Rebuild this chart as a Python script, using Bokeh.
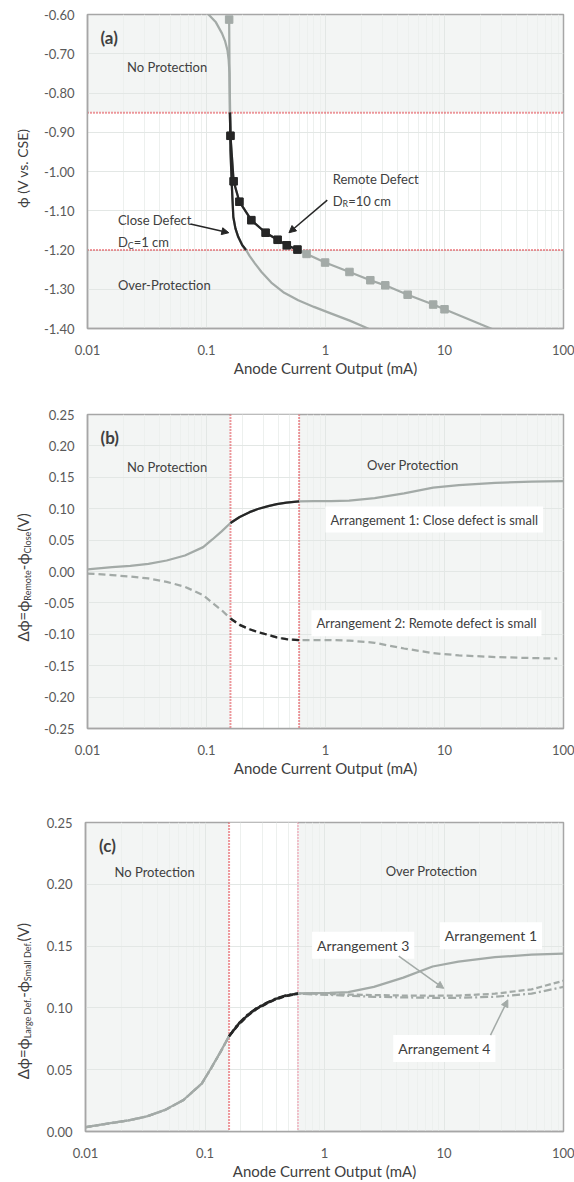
import glob
import math
import os

from bokeh.embed import file_html
from bokeh.layouts import column, row
from bokeh.models import (Arrow, BoxAnnotation, FixedTicker, Label, NormalHead,
                          PrintfTickFormatter, Range1d, Span)
from bokeh.plotting import figure
from bokeh.resources import INLINE

# ------------------------------------------------------------------ data
x_ticks = [0.01, 0.1, 1, 10, 100]
x_tick_labels = ["0.01", "0.1", "1", "10", "100"]
x_minor_ticks = [0.02, 0.03, 0.04, 0.05, 0.06, 0.07, 0.08, 0.09,
                 0.2, 0.3, 0.4, 0.5, 0.6, 0.7, 0.8, 0.9,
                 2, 3, 4, 5, 6, 7, 8, 9,
                 20, 30, 40, 50, 60, 70, 80, 90]

# (a) potential of each defect vs. anode current
phi_ticks = [-1.40, -1.30, -1.20, -1.10, -1.00, -0.90, -0.80, -0.70, -0.60]
phi_protect_top = -0.85      # protection criterion
phi_protect_bottom = -1.20   # over-protection limit

close_i = [0.104, 0.120, 0.135, 0.143, 0.150, 0.1535, 0.156, 0.158, 0.159,
           0.163, 0.168, 0.175, 0.185, 0.200, 0.215, 0.230, 0.255, 0.290,
           0.350, 0.450, 0.590, 0.800, 1.12, 1.60, 2.13, 2.50]
close_phi = [-0.600, -0.620, -0.648, -0.667, -0.691, -0.715, -0.750, -0.850,
             -0.946, -1.031, -1.116, -1.145, -1.167, -1.188, -1.200, -1.215,
             -1.234, -1.256, -1.283, -1.309, -1.328, -1.345, -1.362, -1.380,
             -1.396, -1.406]

remote_i = [0.155, 0.157, 0.159, 0.169, 0.189, 0.238, 0.314, 0.396, 0.473,
            0.581, 0.693, 0.993, 1.59, 2.38, 3.18, 4.90, 8.03, 10.0, 26.0]
remote_phi = [-0.613, -0.850, -0.909, -1.025, -1.077, -1.124, -1.156, -1.174,
              -1.188, -1.199, -1.210, -1.232, -1.256, -1.277, -1.290, -1.314,
              -1.339, -1.351, -1.403]
remote_marker = [1, 0, 1, 1, 1, 1, 1, 1, 1, 1, 1, 1, 1, 1, 1, 1, 1, 1, 0]

# (b), (c) potential difference between the two defects
dphi_ticks_b = [-0.25, -0.20, -0.15, -0.10, -0.05, 0.00, 0.05, 0.10, 0.15, 0.20, 0.25]
dphi_ticks_c = [0.00, 0.05, 0.10, 0.15, 0.20, 0.25]
i_protect_low = 0.159
i_protect_high = 0.60

dphi_i = [0.01, 0.0161, 0.0229, 0.0325, 0.0463, 0.0659, 0.0938, 0.112, 0.134,
          0.159, 0.19, 0.23, 0.27, 0.33, 0.39, 0.47, 0.60, 0.80, 1.11, 1.58,
          2.59, 4.57, 8.03, 13.2, 26.7, 54.0, 100.0]
arrangement1 = [0.0035, 0.0068, 0.0090, 0.0122, 0.0175, 0.0255, 0.0388, 0.0510,
                0.0640, 0.0772, 0.0868, 0.0945, 0.0995, 0.1040, 0.1072, 0.1098,
                0.1117, 0.1120, 0.1122, 0.1128, 0.1170, 0.1245, 0.1335, 0.1375,
                0.1410, 0.1432, 0.1440]
arrangement2_i = [0.01, 0.0161, 0.0229, 0.0325, 0.0463, 0.0659, 0.0938, 0.112,
                  0.134, 0.159, 0.19, 0.23, 0.27, 0.33, 0.39, 0.47, 0.60, 0.80,
                  1.11, 1.58, 2.59, 4.57, 8.03, 13.2, 26.7, 54.0, 88.5]
arrangement2 = [-0.0032, -0.0058, -0.0080, -0.0110, -0.0165, -0.0244, -0.0377,
                -0.0500, -0.0616, -0.0748, -0.0850, -0.0920, -0.0965, -0.1010,
                -0.1050, -0.1078, -0.1094, -0.1092, -0.1092, -0.1100, -0.1135,
                -0.1226, -0.1300, -0.1335, -0.1362, -0.1378, -0.1386]
arrangement3 = [0.0034, 0.0066, 0.0089, 0.0121, 0.0173, 0.0253, 0.0386, 0.0508,
                0.0638, 0.0770, 0.0862, 0.0940, 0.0990, 0.1036, 0.1068, 0.1094,
                0.1114, 0.1115, 0.1112, 0.1108, 0.1104, 0.1100, 0.1098, 0.1100,
                0.1115, 0.1150, 0.1220]
arrangement4 = [0.0035, 0.0067, 0.0090, 0.0121, 0.0174, 0.0254, 0.0387, 0.0509,
                0.0639, 0.0771, 0.0872, 0.0950, 0.0998, 0.1043, 0.1075, 0.1100,
                0.1116, 0.1110, 0.1105, 0.1098, 0.1090, 0.1085, 0.1082, 0.1082,
                0.1090, 0.1115, 0.1170]

# ------------------------------------------------------------------ style
FONT = "Lato"
INK = "#404040"
TICK_INK = "#595959"
GRAY = "#a3aaa7"
BLACK = "#262626"
SHADE = "#f3f5f4"
GRID = "#e3e7e5"
GRID_MINOR = "#edf0ee"
FRAME = "#a6a6a6"
RED = "#e0343c"
PINK = "#f08ea4"
LINE_W = 2.25
STRIP_W = 40          # width of the strip that carries the rotated y title
SUB = 0.6             # subscript size relative to the title size


def _find_font(filename):
    roots = ["/usr/share/fonts", "/usr/local/share/fonts",
             os.path.expanduser("~/.fonts"), os.path.expanduser("~/.local/share/fonts")]
    for root in roots:
        hits = glob.glob(os.path.join(root, "**", filename), recursive=True)
        if hits:
            return hits[0]
    return None


try:
    from PIL import ImageFont
    _path = _find_font("Lato-Regular.ttf")
    _METRICS = ImageFont.truetype(_path, 100) if _path else None
except Exception:
    _METRICS = None


def text_width(text, size):
    """Advance width in px of a string set in FONT at the given size."""
    if _METRICS is not None:
        return _METRICS.getlength(text) * size / 100.0
    return 0.52 * size * len(text)


def panel(height, border_top, border_bottom, y_start, y_end, y_ticks):
    p = figure(width=574 - STRIP_W, height=height, x_axis_type="log",
               x_range=Range1d(0.01, 100), y_range=Range1d(y_start, y_end),
               output_backend="svg", toolbar_location=None,
               min_border_left=85 - STRIP_W, min_border_right=11,
               min_border_top=border_top, min_border_bottom=border_bottom)
    p.background_fill_color = SHADE
    p.border_fill_color = "white"
    p.outline_line_color = FRAME
    p.outline_line_width = 1.5

    xt = FixedTicker(ticks=x_ticks, minor_ticks=x_minor_ticks)
    yt = FixedTicker(ticks=y_ticks)
    p.xaxis.ticker = xt
    p.xgrid.ticker = xt
    p.yaxis.ticker = yt
    p.ygrid.ticker = yt
    p.xaxis.major_label_overrides = dict(zip(x_ticks, x_tick_labels))
    p.yaxis.formatter = PrintfTickFormatter(format="%.2f")

    for ax in (p.xaxis[0], p.yaxis[0]):
        ax.axis_line_color = FRAME
        ax.axis_line_width = 1.5
        ax.major_tick_line_color = None
        ax.minor_tick_line_color = None
        ax.major_tick_out = 0
        ax.major_tick_in = 0
        ax.major_label_text_font = FONT
        ax.major_label_text_font_size = "13px"
        ax.major_label_text_color = TICK_INK
    p.xaxis.major_label_standoff = 12
    p.yaxis.major_label_standoff = 13

    p.xaxis.axis_label = "Anode Current Output (mA)"
    p.xaxis.axis_label_text_font = FONT
    p.xaxis.axis_label_text_font_size = "15px"
    p.xaxis.axis_label_text_font_style = "normal"
    p.xaxis.axis_label_text_color = INK
    p.xaxis.axis_label_standoff = 1

    p.xgrid.grid_line_color = GRID
    p.xgrid.minor_grid_line_color = GRID_MINOR
    p.ygrid.grid_line_color = GRID
    return p


def title_strip(main, height, border_top, border_bottom, parts, y_centre, size=15):
    """Narrow blank figure left of a panel holding its rotated y-axis title,
    built from (text, is_subscript) pieces and centred on y_centre."""
    s = figure(width=STRIP_W, height=height, x_range=Range1d(0, STRIP_W),
               y_range=main.y_range, output_backend="svg", toolbar_location=None,
               x_axis_location=None, y_axis_location=None,
               min_border_left=0, min_border_right=0,
               min_border_top=border_top, min_border_bottom=border_bottom)
    s.grid.visible = False
    s.outline_line_color = None
    s.background_fill_color = "white"
    s.border_fill_color = "white"
    sizes = [size * SUB if sub else size for _, sub in parts]
    widths = [text_width(t, z) for (t, _), z in zip(parts, sizes)]
    pos = -sum(widths) / 2
    for (text, sub), z, w in zip(parts, sizes, widths):
        s.add_layout(Label(x=22, y=y_centre, x_offset=4.5 if sub else 0, y_offset=pos,
                           angle=math.pi / 2, text=text,
                           text_font=FONT, text_font_size=f"{z:.1f}px",
                           text_color=INK, text_align="left", text_baseline="middle"))
        pos += w
    return s


def note(p, x, y, text, size=13, color=INK, **kw):
    p.add_layout(Label(x=x, y=y, text=text, text_font=FONT,
                       text_font_size=f"{size}px", text_color=color,
                       text_align="left", text_baseline="middle", **kw))


def panel_tag(p, x, y, text):
    p.add_layout(Label(x=x, y=y, text=text, text_font=FONT, text_font_size="17px",
                       text_font_style="bold", text_color=INK,
                       text_align="left", text_baseline="middle"))


def subscript_note(p, x, y, parts, size=13):
    """Horizontal label made of (text, is_subscript) pieces, y = visual centre."""
    offset = 0.0
    for text, sub in parts:
        s = size * 0.68 if sub else size
        p.add_layout(Label(x=x, y=y, x_offset=offset,
                           y_offset=-0.36 * size - (3 if sub else 0),
                           text=text, text_font=FONT, text_font_size=f"{s:.1f}px",
                           text_color=INK, text_align="left", text_baseline="alphabetic"))
        offset += text_width(text, s)


def arrow(p, x0, y0, x1, y1, color):
    p.add_layout(Arrow(end=NormalHead(size=7, fill_color=color, line_color=color),
                       x_start=x0, y_start=y0, x_end=x1, y_end=y1,
                       line_color=color, line_width=1.5))


def dotted(p, location, dimension, color=RED):
    p.add_layout(Span(location=location, dimension=dimension, line_color=color,
                      line_width=2, line_dash="1 2", level="underlay"))


def white_band(p, **edges):
    p.add_layout(BoxAnnotation(fill_color="white", fill_alpha=1.0, line_color=None,
                               level="image", **edges))


def in_band(xs, ys, lo, hi, key):
    pts = [(x, y) for x, y in zip(xs, ys) if lo - 1e-9 <= key(x, y) <= hi + 1e-9]
    return [x for x, _ in pts], [y for _, y in pts]


# ------------------------------------------------------------------ (a)
pa = panel(400, 14, 72, -1.40, -0.60, phi_ticks)
white_band(pa, bottom=phi_protect_bottom, top=phi_protect_top)
dotted(pa, phi_protect_top, "width")
dotted(pa, phi_protect_bottom, "width")

pa.line(close_i, close_phi, line_color=GRAY, line_width=LINE_W)
pa.line(remote_i, remote_phi, line_color=GRAY, line_width=LINE_W)
mk_i = [x for x, m in zip(remote_i, remote_marker) if m]
mk_phi = [y for y, m in zip(remote_phi, remote_marker) if m]
pa.scatter(mk_i, mk_phi, marker="square", size=7.5, fill_color=GRAY, line_color=GRAY)

band = lambda x, y: -y
ci, cp = in_band(close_i, close_phi, -phi_protect_top, -phi_protect_bottom, band)
pa.line(ci, cp, line_color=BLACK, line_width=LINE_W)
ri, rp = in_band(remote_i, remote_phi, -phi_protect_top, -phi_protect_bottom, band)
pa.line(ri, rp, line_color=BLACK, line_width=LINE_W)
bi, bp = in_band(mk_i, mk_phi, -phi_protect_top, -phi_protect_bottom, band)
pa.scatter(bi, bp, marker="square", size=7.5, fill_color=BLACK, line_color=BLACK)

panel_tag(pa, 0.01285, -0.658, "(a)")
note(pa, 0.0215, -0.733, "No Protection")
note(pa, 0.0180, -1.290, "Over-Protection")
note(pa, 0.0180, -1.124, "Close Defect")
subscript_note(pa, 0.0180, -1.168, [("D", False), ("C", True), ("=1 cm", False)])
note(pa, 1.15, -1.020, "Remote Defect")
subscript_note(pa, 1.15, -1.063, [("D", False), ("R", True), ("=10 cm", False)])
arrow(pa, 0.0733, -1.134, 0.154, -1.156, BLACK)
arrow(pa, 1.035, -1.073, 0.493, -1.156, BLACK)
sa = title_strip(pa, 400, 14, 72, [("ϕ (V vs. CSE)", False)], -0.992, size=14)

# ------------------------------------------------------------------ (b)
pb = panel(400, 14, 72, -0.25, 0.25, dphi_ticks_b)
white_band(pb, left=i_protect_low, right=i_protect_high)
dotted(pb, i_protect_low, "height")
dotted(pb, i_protect_high, "height")

by_current = lambda x, y: x
pb.line(dphi_i, arrangement1, line_color=GRAY, line_width=LINE_W)
pb.line(arrangement2_i, arrangement2, line_color=GRAY, line_width=LINE_W, line_dash="7 4")
xi, yv = in_band(dphi_i, arrangement1, i_protect_low, i_protect_high, by_current)
pb.line(xi, yv, line_color=BLACK, line_width=LINE_W)
xi, yv = in_band(arrangement2_i, arrangement2, i_protect_low, i_protect_high, by_current)
pb.line(xi, yv, line_color=BLACK, line_width=LINE_W, line_dash="7 4")

panel_tag(pb, 0.01285, 0.2139, "(b)")
note(pb, 0.0215, 0.1661, "No Protection")
note(pb, 2.23, 0.170, "Over Protection")
note(pb, 1.0, 0.0828, "Arrangement 1: Close defect is small",
     background_fill_color="white", padding=5)
note(pb, 0.762, -0.0823, "Arrangement 2: Remote defect is small",
     background_fill_color="white", padding=5)
sb = title_strip(pb, 400, 14, 72,
                 [("Δϕ=ϕ", False), ("Remote", True), ("-ϕ", False),
                  ("Close", True), (" (V)", False)], -0.0064)

# ------------------------------------------------------------------ (c)
pc = panel(382, 22, 47, 0.0, 0.25, dphi_ticks_c)
white_band(pc, left=i_protect_low, right=i_protect_high)
dotted(pc, i_protect_low, "height")
dotted(pc, i_protect_high, "height", color=PINK)

styles = [(arrangement3, "6 3"), (arrangement4, "8 3 2 3"), (arrangement1, "solid")]
for ys, dash in styles:
    pc.line(dphi_i, ys, line_color=GRAY, line_width=LINE_W, line_dash=dash)
for ys, dash in styles:
    xi, yv = in_band(dphi_i, ys, i_protect_low, i_protect_high, by_current)
    pc.line(xi, yv, line_color=BLACK, line_width=LINE_W, line_dash=dash)

panel_tag(pc, 0.0130, 0.2314, "(c)")
note(pc, 0.0175, 0.2098, "No Protection")
note(pc, 3.25, 0.2105, "Over Protection")
note(pc, 9.23, 0.1584, "Arrangement 1", size=14, background_fill_color="white", padding=5)
note(pc, 0.787, 0.1506, "Arrangement 3", size=14, background_fill_color="white", padding=5)
note(pc, 3.76, 0.0671, "Arrangement 4", size=14, background_fill_color="white", padding=5)
arrow(pc, 4.18, 0.1419, 9.95, 0.1158, GRAY)
arrow(pc, 24.5, 0.0780, 34.2, 0.1065, GRAY)
sc = title_strip(pc, 382, 22, 47,
                 [("Δϕ=ϕ", False), ("Large Def.", True), ("-ϕ", False),
                  ("Small Def.", True), (" (V)", False)], 0.107)

layout = column(row(sa, pa, spacing=0), row(sb, pb, spacing=0),
                row(sc, pc, spacing=0), spacing=0)
with open("out.html", "w") as f:
    f.write(file_html(layout, INLINE, title="Anode current output"))
